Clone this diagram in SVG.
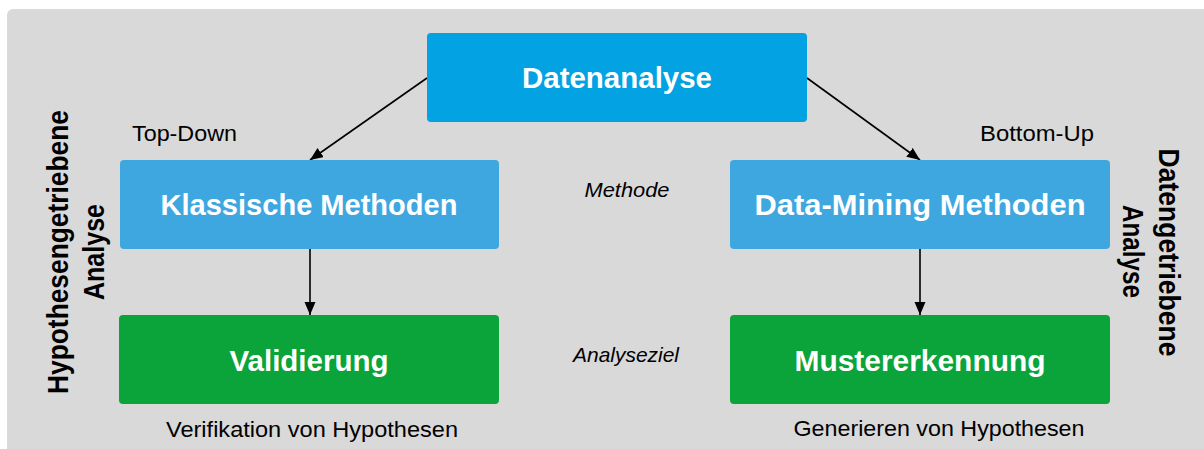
<svg xmlns="http://www.w3.org/2000/svg" width="1204" height="449" viewBox="0 0 1204 449">
<style>
.bg{fill:#D9D9D9}
.top{fill:#02A2E3}
.mid{fill:#3FA7DF}
.low{fill:#0AA43A}
.nl{font-family:"Liberation Sans",Arial,sans-serif;font-weight:bold;font-size:29px;fill:#FFFFFF;text-anchor:middle}
.sl{font-family:"Liberation Sans",Arial,sans-serif;font-size:22px;fill:#000000;text-anchor:middle}
.it{font-family:"Liberation Sans",Arial,sans-serif;font-style:italic;font-size:21px;fill:#000000;text-anchor:middle}
.vl{font-family:"Liberation Sans",Arial,sans-serif;font-weight:bold;font-size:29px;fill:#000000;text-anchor:middle}
.conn{stroke:#000000;stroke-width:1.6;fill:none}
</style>
<defs>
<marker id="arr" markerUnits="userSpaceOnUse" markerWidth="14" markerHeight="12" refX="13" refY="5.5" orient="auto">
<path d="M0,0 L13,5.5 L0,11 z" fill="#000000"/>
</marker>
</defs>
<rect class="bg" x="7" y="9" width="1215" height="460" rx="6"/>

<g id="connectors">
<line class="conn" x1="427" y1="78" x2="310" y2="160" marker-end="url(#arr)"/>
<line class="conn" x1="807" y1="78" x2="920" y2="160" marker-end="url(#arr)"/>
<line class="conn" x1="310" y1="249" x2="310" y2="315" marker-end="url(#arr)"/>
<line class="conn" x1="920" y1="249" x2="920" y2="315" marker-end="url(#arr)"/>
</g>

<g id="datenanalyse">
<rect class="top" x="427" y="33" width="380" height="89" rx="4"/>
<text class="nl" x="617" y="88" textLength="190" lengthAdjust="spacingAndGlyphs">Datenanalyse</text>
</g>
<g id="klassische">
<rect class="mid" x="120" y="160" width="379" height="89" rx="4"/>
<text class="nl" x="309" y="215" textLength="297" lengthAdjust="spacingAndGlyphs">Klassische Methoden</text>
</g>
<g id="datamining">
<rect class="mid" x="730" y="160" width="380" height="89" rx="4"/>
<text class="nl" x="920" y="215" textLength="331" lengthAdjust="spacingAndGlyphs">Data-Mining Methoden</text>
</g>
<g id="validierung">
<rect class="low" x="119" y="315" width="380" height="89" rx="4"/>
<text class="nl" x="309" y="371" textLength="159" lengthAdjust="spacingAndGlyphs">Validierung</text>
</g>
<g id="mustererkennung">
<rect class="low" x="730" y="315" width="380" height="89" rx="4"/>
<text class="nl" x="920" y="371" textLength="251" lengthAdjust="spacingAndGlyphs">Mustererkennung</text>
</g>

<g id="labels">
<text class="sl" x="184.5" y="141" textLength="105" lengthAdjust="spacingAndGlyphs">Top-Down</text>
<text class="sl" x="1037" y="141" textLength="114" lengthAdjust="spacingAndGlyphs">Bottom-Up</text>
<text class="it" x="627" y="197" textLength="85" lengthAdjust="spacingAndGlyphs">Methode</text>
<text class="it" x="626" y="362" textLength="106" lengthAdjust="spacingAndGlyphs">Analyseziel</text>
<text class="sl" x="312" y="437" textLength="292" lengthAdjust="spacingAndGlyphs">Verifikation von Hypothesen</text>
<text class="sl" x="939" y="436" textLength="291" lengthAdjust="spacingAndGlyphs">Generieren von Hypothesen</text>
</g>

<g id="left-axis">
<text class="vl" transform="translate(68,252) rotate(-90)" x="0" y="0" textLength="284" lengthAdjust="spacingAndGlyphs">Hypothesengetriebene</text>
<text class="vl" transform="translate(104,252) rotate(-90)" x="0" y="0" textLength="96" lengthAdjust="spacingAndGlyphs">Analyse</text>
</g>
<g id="right-axis">
<text class="vl" transform="translate(1159,252.5) rotate(90)" x="0" y="0" textLength="208" lengthAdjust="spacingAndGlyphs">Datengetriebene</text>
<text class="vl" transform="translate(1123,251.5) rotate(90)" x="0" y="0" textLength="93" lengthAdjust="spacingAndGlyphs">Analyse</text>
</g>
</svg>
